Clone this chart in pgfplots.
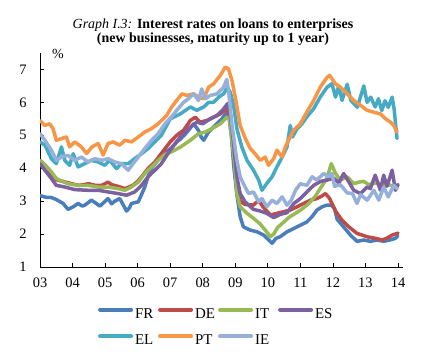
\documentclass[border=0pt]{standalone}
\usepackage{fontspec}
\setmainfont{Liberation Serif}
\usepackage{pgfplots}
\pgfplotsset{compat=1.18}
\definecolor{cFR}{HTML}{4A7EBB}
\definecolor{cDE}{HTML}{BE4B48}
\definecolor{cIT}{HTML}{98B954}
\definecolor{cES}{HTML}{7D60A0}
\definecolor{cEL}{HTML}{46AAC5}
\definecolor{cPT}{HTML}{F79646}
\definecolor{cIE}{HTML}{95B0D9}
\begin{document}
\begin{tikzpicture}[x=1bp,y=1bp]
\useasboundingbox (0,0) rectangle (439,356);
\node[anchor=base,font=\fontsize{14}{16}\selectfont] at (213,327.5) {\textit{Graph I.3:} \textbf{Interest rates on loans to enterprises}};
\node[anchor=base,font=\fontsize{14}{16}\selectfont\bfseries] at (213,313.5) {(new businesses, maturity up to 1 year)};
\node[anchor=base west,inner sep=0pt,font=\fontsize{14}{16}\selectfont] at (52,298) {\%};
\begin{axis}[
  at={(40bp,89bp)}, anchor=south west,
  width=363bp, height=214bp, scale only axis,
  xmin=3, xmax=14.154, ymin=1, ymax=7.5,
  axis lines*=left,
  axis line style={line width=0.8bp, black},
  tick style={line width=0.8bp, black},
  tick align=inside, major tick length=4bp,
  xtick={3,4,5,6,7,8,9,10,11,12,13,14},
  xticklabels={03,04,05,06,07,08,09,10,11,12,13,14},
  ytick={1,2,3,4,5,6,7},
  /pgf/number format/assume math mode=true,
  tick label style={font=\fontsize{14.5}{17}\selectfont},
  yticklabel style={xshift=-10bp},
  xticklabel style={yshift=-7bp},
  every axis plot/.append style={line width=3.5bp, line join=round, line cap=round},
  legend columns=4,
  legend image code/.code={\draw[#1, line width=4bp, line cap=round] (2bp,5bp) -- (33bp,5bp);},
  legend style={at={(0.16,-0.19)}, anchor=north west, draw=none, fill=none, inner sep=0pt, outer sep=0pt,
    row sep=13bp, font=\fontsize{15}{17}\selectfont,
    nodes={inner sep=0pt, text height=10bp, text depth=3bp},
    /tikz/every odd column/.append style={column sep=2bp},
    /tikz/every even column/.append style={column sep=2bp}},
]
% FR
\addplot[cFR] coordinates {(3.00,3.17)(3.17,3.12)(3.35,3.11)(3.5,3.05)(3.71,2.93)(3.86,2.75)(4.02,2.83)(4.17,2.93)(4.3,2.85)(4.38,2.88)(4.58,3.03)(4.7,2.95)(4.84,2.85)(4.95,2.95)(5.09,3.08)(5.2,2.92)(5.3,3.0)(5.45,3.08)(5.55,2.9)(5.66,2.7)(5.75,2.8)(5.81,2.93)(6.02,2.98)(6.12,3.2)(6.22,3.43)(6.32,3.75)(6.43,4.0)(6.55,4.15)(6.73,4.4)(6.88,4.5)(7.04,4.62)(7.2,4.8)(7.31,4.88)(7.45,5.02)(7.56,5.15)(7.72,5.35)(7.87,5.15)(7.95,4.95)(8.03,4.85)(8.18,5.1)(8.38,5.3)(8.59,5.5)(8.74,5.7)(8.8,5.6)(8.88,5.0)(8.95,4.1)(9.05,3.2)(9.15,2.53)(9.25,2.22)(9.46,2.12)(9.67,2.07)(9.87,1.97)(10.03,1.82)(10.13,1.72)(10.25,1.87)(10.38,1.92)(10.59,2.07)(10.8,2.17)(11.0,2.27)(11.2,2.37)(11.36,2.53)(11.51,2.73)(11.67,2.83)(11.82,2.88)(11.95,2.88)(12.05,2.78)(12.13,2.45)(12.3,2.25)(12.54,1.97)(12.74,1.78)(12.95,1.82)(13.15,1.78)(13.36,1.82)(13.56,1.78)(13.75,1.82)(13.92,1.87)(14.0,1.95)};
\addlegendentry{\makebox[21bp][l]{FR}}
% DE
\addplot[cDE] coordinates {(3.0,4.24)(3.15,4.1)(3.25,3.99)(3.4,3.75)(3.5,3.65)(3.7,3.6)(3.97,3.53)(4.2,3.48)(4.5,3.53)(4.7,3.48)(4.89,3.48)(5.09,3.58)(5.2,3.5)(5.4,3.45)(5.61,3.38)(5.85,3.48)(6.0,3.6)(6.12,3.74)(6.32,3.99)(6.53,4.19)(6.73,4.45)(7.0,4.8)(7.2,5.0)(7.41,5.15)(7.62,5.45)(7.77,5.55)(7.92,5.4)(8.13,5.45)(8.33,5.55)(8.54,5.65)(8.74,5.8)(8.82,5.6)(8.9,5.0)(9.0,4.1)(9.08,3.4)(9.15,3.0)(9.3,2.9)(9.56,2.88)(9.72,3.03)(9.85,2.83)(10.08,2.58)(10.28,2.63)(10.49,2.68)(10.69,2.73)(10.9,2.83)(11.1,2.93)(11.31,3.03)(11.51,3.08)(11.65,3.15)(11.77,3.23)(11.9,3.08)(12.08,2.7)(12.28,2.42)(12.49,2.22)(12.74,2.02)(13.05,1.92)(13.31,1.87)(13.51,1.82)(13.65,1.87)(13.82,1.97)(14.0,2.03)};
\addlegendentry{\makebox[21bp][l]{DE}}
% IT
\addplot[cIT] coordinates {(3.0,4.24)(3.15,4.09)(3.35,3.89)(3.5,3.69)(3.6,3.64)(3.86,3.53)(4.17,3.48)(4.48,3.48)(4.79,3.43)(5.09,3.43)(5.4,3.38)(5.61,3.33)(5.81,3.43)(6.02,3.58)(6.22,3.84)(6.43,4.04)(6.63,4.24)(6.84,4.42)(7.04,4.5)(7.31,4.64)(7.62,4.85)(7.87,5.05)(8.08,5.1)(8.28,5.2)(8.54,5.35)(8.74,5.55)(8.82,5.5)(8.9,4.8)(8.97,4.24)(9.05,3.23)(9.15,2.83)(9.36,2.63)(9.56,2.48)(9.77,2.3)(9.92,2.12)(10.08,1.92)(10.18,2.0)(10.3,2.2)(10.44,2.32)(10.64,2.5)(10.85,2.63)(11.05,2.76)(11.26,2.93)(11.46,3.15)(11.62,3.4)(11.82,3.7)(11.95,4.14)(12.08,3.84)(12.23,3.64)(12.44,3.74)(12.64,3.53)(12.8,3.58)(12.95,3.6)(13.1,3.5)(13.3,3.55)(13.5,3.5)(13.7,3.5)(13.9,3.45)(14.0,3.5)};
\addlegendentry{\makebox[21bp][l]{IT}}
% ES
\addplot[cES] coordinates {(3.0,4.14)(3.15,3.94)(3.35,3.69)(3.5,3.48)(3.76,3.43)(4.07,3.35)(4.48,3.33)(4.79,3.33)(5.09,3.28)(5.4,3.23)(5.66,3.18)(5.91,3.28)(6.12,3.48)(6.32,3.74)(6.53,3.94)(6.73,4.14)(7.0,4.55)(7.31,4.95)(7.62,5.25)(7.82,5.4)(8.0,5.35)(8.23,5.5)(8.44,5.6)(8.64,5.8)(8.76,5.96)(8.84,5.7)(8.95,4.75)(9.05,3.74)(9.15,3.23)(9.3,2.98)(9.56,2.75)(9.77,2.7)(9.97,2.63)(10.18,2.5)(10.38,2.6)(10.59,2.65)(10.8,2.93)(11.0,3.08)(11.2,3.28)(11.41,3.48)(11.62,3.6)(11.82,3.64)(12.03,3.7)(12.18,3.55)(12.33,3.84)(12.48,3.6)(12.64,3.33)(12.85,3.23)(13.05,3.43)(13.15,3.38)(13.3,3.79)(13.46,3.33)(13.56,3.79)(13.66,3.45)(13.82,3.94)(13.92,3.33)(14.0,3.5)};
\addlegendentry{\makebox[21bp][l]{ES}}
% EL
\addplot[cEL] coordinates {(3.0,4.8)(3.15,4.7)(3.35,4.29)(3.5,4.14)(3.66,4.65)(3.76,4.24)(3.91,4.09)(4.02,4.44)(4.17,4.04)(4.37,4.14)(4.58,4.24)(4.79,4.19)(4.99,4.09)(5.14,4.24)(5.35,3.99)(5.5,4.14)(5.71,4.14)(5.91,4.29)(6.12,4.44)(6.32,4.6)(6.53,4.8)(6.73,5.0)(7.0,5.5)(7.31,5.65)(7.62,5.86)(7.82,5.76)(8.03,5.86)(8.18,6.0)(8.33,6.0)(8.49,6.16)(8.64,6.26)(8.76,6.45)(8.85,6.3)(8.95,5.9)(9.05,5.2)(9.2,4.65)(9.36,4.24)(9.56,3.94)(9.72,3.64)(9.82,3.33)(9.97,3.54)(10.13,3.74)(10.28,4.04)(10.44,4.34)(10.59,4.65)(10.69,5.3)(10.76,4.95)(10.9,5.2)(11.05,5.35)(11.2,5.56)(11.41,5.81)(11.61,6.16)(11.82,6.46)(11.97,6.57)(12.08,6.16)(12.18,6.5)(12.28,6.06)(12.44,6.55)(12.55,6.06)(12.75,5.85)(12.95,6.5)(13.05,6.0)(13.16,6.16)(13.3,5.86)(13.4,6.11)(13.5,5.75)(13.6,6.05)(13.7,5.85)(13.82,6.16)(13.88,5.8)(13.93,5.3)(13.97,4.9)};
\addlegendentry{\makebox[21bp][l]{EL}}
% PT
\addplot[cPT] coordinates {(3.0,5.45)(3.15,5.3)(3.3,5.35)(3.4,5.2)(3.5,4.85)(3.66,4.9)(3.81,4.95)(3.91,4.65)(4.07,4.8)(4.27,4.65)(4.43,4.45)(4.6,4.65)(4.79,4.75)(4.94,4.4)(5.09,4.75)(5.25,4.8)(5.45,4.7)(5.61,4.85)(5.81,4.8)(6.02,4.95)(6.22,5.1)(6.42,5.2)(6.63,5.35)(6.89,5.6)(7.04,5.85)(7.2,6.06)(7.36,6.26)(7.51,6.21)(7.72,6.26)(7.87,6.16)(8.03,6.11)(8.18,6.46)(8.33,6.56)(8.54,6.82)(8.69,7.07)(8.79,7.02)(8.9,6.66)(9.0,6.16)(9.15,5.3)(9.31,4.9)(9.46,4.6)(9.6,4.45)(9.77,4.24)(9.92,4.34)(10.02,4.09)(10.18,4.29)(10.28,4.55)(10.44,4.34)(10.54,4.65)(10.64,4.85)(10.79,5.15)(11.0,5.35)(11.2,5.71)(11.41,6.06)(11.61,6.46)(11.82,6.76)(11.9,6.82)(12.08,6.56)(12.23,6.46)(12.44,6.26)(12.64,6.06)(12.85,5.91)(13.05,5.76)(13.26,5.7)(13.46,5.65)(13.62,5.5)(13.77,5.4)(13.87,5.3)(13.97,5.1)};
\addlegendentry{\makebox[21bp][l]{PT}}
% IE
\addplot[cIE] coordinates {(3.0,5.05)(3.15,4.85)(3.35,4.55)(3.5,4.24)(3.66,4.34)(3.86,4.39)(4.07,4.24)(4.27,4.34)(4.48,4.19)(4.68,4.29)(4.89,4.24)(5.09,4.29)(5.3,4.19)(5.5,4.14)(5.71,3.94)(5.86,4.14)(6.02,4.34)(6.22,4.6)(6.43,4.85)(6.63,5.05)(6.84,5.35)(7.04,5.56)(7.2,5.76)(7.41,6.0)(7.56,6.11)(7.72,6.26)(7.87,6.06)(7.97,6.41)(8.08,6.11)(8.23,6.21)(8.44,6.26)(8.64,6.46)(8.74,6.7)(8.8,6.3)(8.9,5.3)(8.97,4.8)(9.05,4.24)(9.15,3.74)(9.25,3.53)(9.41,3.23)(9.56,3.28)(9.72,2.98)(9.82,3.08)(9.97,2.83)(10.13,3.03)(10.28,2.93)(10.44,3.13)(10.59,2.88)(10.72,3.03)(10.85,3.33)(11.0,3.53)(11.2,3.48)(11.36,3.74)(11.5,3.64)(11.72,3.84)(11.85,3.74)(11.97,3.84)(12.05,3.45)(12.23,3.5)(12.44,3.25)(12.6,3.23)(12.74,2.93)(12.85,3.2)(13.05,3.03)(13.26,3.33)(13.41,3.03)(13.56,3.43)(13.7,3.13)(13.87,3.48)(13.97,3.38)};
\addlegendentry{\makebox[21bp][l]{IE}}
\end{axis}
\end{tikzpicture}
\end{document}
